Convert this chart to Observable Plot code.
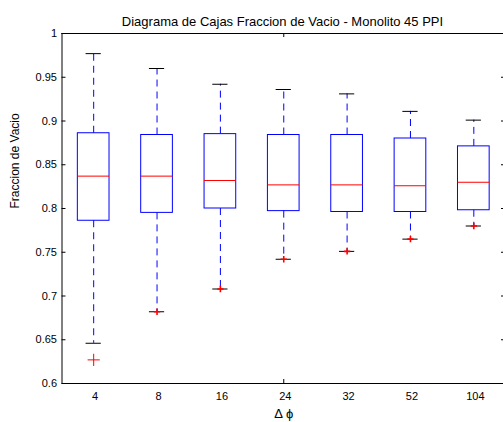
<!DOCTYPE html>
<html>
<head>
<meta charset="utf-8">
<script src="https://cdn.jsdelivr.net/npm/d3@7"></script>
<script src="https://cdn.jsdelivr.net/npm/@observablehq/plot@0.6"></script>
<style>
  html, body { margin: 0; padding: 0; background: #fff; }
  svg { display: block; }
</style>
</head>
<body>
<div id="chart"></div>
<script>
const categories = ["4", "8", "16", "24", "32", "52", "104"];
const whiskerHigh = [0.977, 0.960, 0.942, 0.936, 0.931, 0.911, 0.901];
const q3 = [0.886, 0.884, 0.885, 0.884, 0.884, 0.880, 0.871];
const median = [0.837, 0.837, 0.832, 0.827, 0.827, 0.826, 0.830];
const q1 = [0.786, 0.795, 0.800, 0.797, 0.796, 0.796, 0.798];
const whiskerLow = [0.646, 0.682, 0.708, 0.742, 0.751, 0.765, 0.780];
const outliers = [{cat: "4", value: 0.627}];
const lowMarkers = [
  {cat: "8", value: 0.682}, {cat: "16", value: 0.708}, {cat: "24", value: 0.742},
  {cat: "32", value: 0.751}, {cat: "52", value: 0.765}, {cat: "104", value: 0.780}
];
const yTicks = [0.6, 0.65, 0.7, 0.75, 0.8, 0.85, 0.9, 0.95, 1];
const xTickMarks = ["24"];
const title = "Diagrama de Cajas Fraccion de Vacio - Monolito 45 PPI";
const yLabel = "Fraccion de Vacio";
const xLabel = "\u0394 \u03d5";

const pos = c => categories.indexOf(c) + 1;
const boxes = categories.map((c, i) => ({
  p: i + 1, hi: whiskerHigh[i], q3: q3[i], med: median[i], q1: q1[i], lo: whiskerLow[i]
}));

const BW = 0.25, CW = 0.12;
const blue = "#0000ff", red = "#ff0000";
const font = "Liberation Sans, Arial, Helvetica, sans-serif";
const xMin = 0.5, xMax = 7.5;
const tickLen = 4 / 63.4;

const chart = Plot.plot({
  width: 503,
  height: 422,
  marginLeft: 61,
  marginTop: 33,
  marginBottom: 39,
  marginRight: 0,
  style: {fontFamily: font, fontSize: "11px", color: "#000", background: "#fff"},
  x: {type: "linear", domain: [xMin, xMax], range: [61.5, 505], axis: null},
  y: {domain: [0.6, 1], range: [383, 33], axis: null},
  marks: [
    Plot.ruleY([0.6, 1], {x1: xMin, x2: xMax, stroke: "#000"}),
    Plot.ruleX([xMin], {y1: 0.6, y2: 1, stroke: "#000"}),
    Plot.ruleX([xMax], {y1: 0.6, y2: 1, stroke: "#000"}),
    Plot.ruleY(yTicks, {x1: xMin, x2: xMin + tickLen, stroke: "#000"}),
    Plot.ruleY(yTicks, {x1: xMax - tickLen, x2: xMax, stroke: "#000"}),
    Plot.text(yTicks, {x: xMin, y: d => d, text: d => String(d), textAnchor: "end", dx: -5, fontSize: 11, fill: "#000"}),
    Plot.ruleX(xTickMarks.map(pos), {y1: 0.6, y2: 0.6 + 4 / 875, stroke: "#000"}),
    Plot.ruleX(xTickMarks.map(pos), {y1: 1, y2: 1 - 4 / 875, stroke: "#000"}),
    Plot.text(categories, {x: d => pos(d), y: 0.6, text: d => d, dy: 13, dx: 1.5, fontSize: 11, fill: "#000"}),
    Plot.ruleX(boxes, {x: "p", y1: "q3", y2: "hi", stroke: blue, strokeDasharray: "7,5"}),
    Plot.ruleX(boxes, {x: "p", y1: "q1", y2: "lo", stroke: blue, strokeDasharray: "7,5"}),
    Plot.ruleY(boxes, {y: "hi", x1: d => d.p - CW, x2: d => d.p + CW, stroke: "#000"}),
    Plot.ruleY(boxes, {y: "lo", x1: d => d.p - CW, x2: d => d.p + CW, stroke: "#000"}),
    Plot.rect(boxes, {x1: d => d.p - BW, x2: d => d.p + BW, y1: "q1", y2: "q3", fill: "none", stroke: blue}),
    Plot.ruleY(boxes, {y: "med", x1: d => d.p - BW, x2: d => d.p + BW, stroke: red}),
    Plot.dot(outliers, {x: d => pos(d.cat), y: "value", symbol: "plus", r: 4, stroke: red, strokeWidth: 1}),
    Plot.dot(lowMarkers, {x: d => pos(d.cat), y: "value", symbol: "plus", r: 2.2, stroke: red, strokeWidth: 1.6}),
    Plot.text([title], {frameAnchor: "top", dy: -17, fontSize: 13, fill: "#000"}),
    Plot.text([yLabel], {frameAnchor: "left", dx: -46, rotate: -90, fontSize: 12, fill: "#000"}),
    Plot.text([xLabel], {x: 4, y: 0.6, dy: 30, fontSize: 13, fill: "#000"})
  ]
});
document.getElementById("chart").appendChild(chart);
</script>
</body>
</html>
